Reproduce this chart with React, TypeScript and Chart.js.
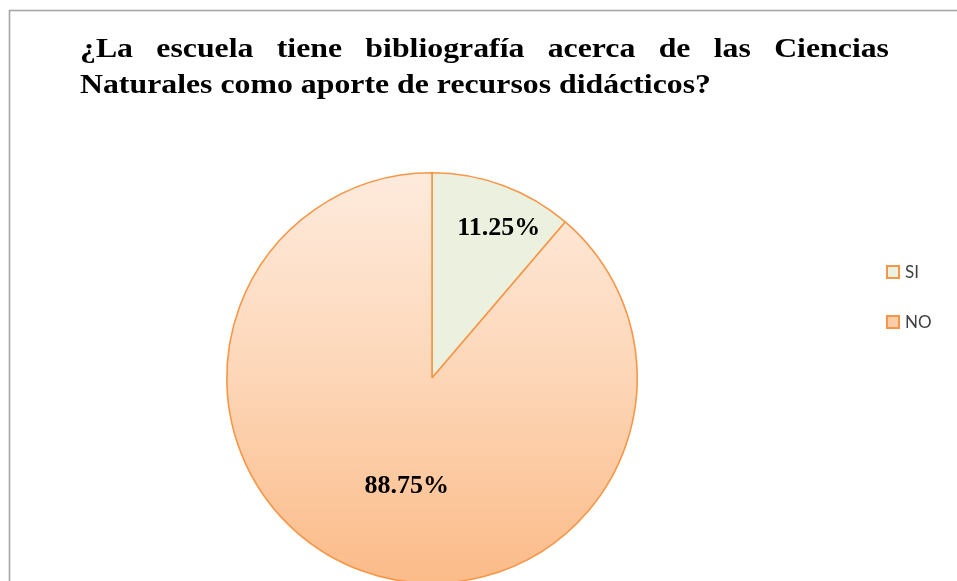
import React, { useEffect, useRef } from "react";
import { Chart, registerables } from "chart.js";

Chart.register(...registerables);

const TITLE_LINES = [
  "¿La escuela tiene bibliografía acerca de las Ciencias",
  "Naturales como aporte de recursos didácticos?",
];
const CATEGORIES = ["SI", "NO"];
const VALUES = [11.25, 88.75];
const VALUE_LABELS = ["11.25%", "88.75%"];
const LABEL_RADIUS = [0.81, 0.53];
const LABEL_ANGLE_SHIFT = [-0.06, -0.12];

const W = 957;
const H = 620;

const framePlugin = {
  id: "frame",
  beforeDraw(chart: any) {
    const ctx = chart.ctx;
    ctx.save();
    ctx.fillStyle = "#ffffff";
    ctx.fillRect(0, 0, chart.width, chart.height);
    ctx.strokeStyle = "#A6A6A6";
    ctx.lineWidth = 1.6;
    ctx.strokeRect(9.5, 10.5, 1200, 1200);
    ctx.restore();
  },
};

const titlePlugin = {
  id: "justTitle",
  afterDraw(chart: any) {
    const ctx = chart.ctx;
    ctx.save();
    ctx.font = 'bold 27px "Liberation Serif", "Times New Roman", serif';
    ctx.fillStyle = "#000000";
    ctx.textBaseline = "alphabetic";
    const left = 80;
    const right = 889;
    const line2Right = 711;
    const sx = (line2Right - left) / ctx.measureText(TITLE_LINES[1]).width;
    // line 1 justified
    const words = TITLE_LINES[0].split(" ");
    const widths = words.map((w: string) => ctx.measureText(w).width * sx);
    const total = widths.reduce((a: number, b: number) => a + b, 0);
    const gap = (right - left - total) / (words.length - 1);
    let x = left;
    words.forEach((w: string, i: number) => {
      ctx.save();
      ctx.translate(x, 57);
      ctx.scale(sx, 1);
      ctx.fillText(w, 0, 0);
      ctx.restore();
      x += widths[i] + gap;
    });
    ctx.save();
    ctx.translate(left, 93);
    ctx.scale(sx, 1);
    ctx.fillText(TITLE_LINES[1], 0, 0);
    ctx.restore();
    ctx.restore();
  },
};

const labelPlugin = {
  id: "sliceLabels",
  afterDatasetsDraw(chart: any) {
    const ctx = chart.ctx;
    const meta = chart.getDatasetMeta(0);
    ctx.save();
    ctx.font = 'bold 26px "Liberation Serif", "Times New Roman", serif';
    ctx.fillStyle = "#000000";
    ctx.textAlign = "center";
    ctx.textBaseline = "middle";
    meta.data.forEach((arc: any, i: number) => {
      const p = arc.getProps(["x", "y", "startAngle", "endAngle", "outerRadius"], true);
      const a = (p.startAngle + p.endAngle) / 2 + LABEL_ANGLE_SHIFT[i] * (i === 0 ? -1 : 1);
      const r = p.outerRadius * LABEL_RADIUS[i];
      ctx.fillText(VALUE_LABELS[i], p.x + Math.cos(a) * r, p.y + Math.sin(a) * r + 2);
    });
    ctx.restore();
  },
};

const legendPlugin = {
  id: "customLegend",
  afterDraw(chart: any) {
    const ctx = chart.ctx;
    const ds = chart.data.datasets[0];
    ctx.save();
    ctx.font = '17px Lato, "Open Sans", sans-serif';
    ctx.textBaseline = "middle";
    ctx.textAlign = "left";
    const x0 = 887;
    const ys = [272, 322];
    chart.data.labels.forEach((lab: string, i: number) => {
      const y = ys[i];
      ctx.fillStyle = i === 0 ? "#EBF1DE" : "#FCCDA8";
      ctx.fillRect(x0, y - 6, 12, 12);
      ctx.strokeStyle = ds.borderColor;
      ctx.lineWidth = 2;
      ctx.strokeRect(x0, y - 6, 12, 12);
      ctx.fillStyle = "#404040";
      ctx.fillText(lab, x0 + 18, y + 1);
    });
    ctx.restore();
  },
};

export default function App() {
  const ref = useRef<HTMLCanvasElement | null>(null);
  useEffect(() => {
    if (!ref.current) return;
    const chart = new Chart(ref.current, {
      type: "pie",
      data: {
        labels: CATEGORIES,
        datasets: [
          {
            data: VALUES,
            backgroundColor: (c: any) => {
              if (c.dataIndex === 0) return "#EBF1DE";
              const area = c.chart.chartArea;
              if (!area) return "#FCCDA8";
              const g = c.chart.ctx.createLinearGradient(0, area.top, 0, area.bottom);
              g.addColorStop(0, "#FEEBDD");
              g.addColorStop(0.5, "#FDD6B7");
              g.addColorStop(1, "#FBBB88");
              return g;
            },
            borderColor: "#F79646",
            borderWidth: 1.6,
          },
        ],
      },
      options: {
        responsive: false,
        animation: false,
        devicePixelRatio: 1,
        layout: { padding: { top: 172, bottom: 36, left: 100, right: 193 } },
        plugins: {
          legend: { display: false },
          title: { display: false },
          tooltip: { enabled: false },
        },
      },
      plugins: [framePlugin, titlePlugin, labelPlugin, legendPlugin],
    });
    return () => chart.destroy();
  }, []);
  return (
    <div
      style={{
        position: "fixed",
        left: 0,
        top: 0,
        width: W,
        height: 581,
        overflow: "hidden",
        background: "#fff",
      }}
    >
      <canvas ref={ref} width={W} height={H} style={{ width: W, height: H, display: "block" }} />
    </div>
  );
}
